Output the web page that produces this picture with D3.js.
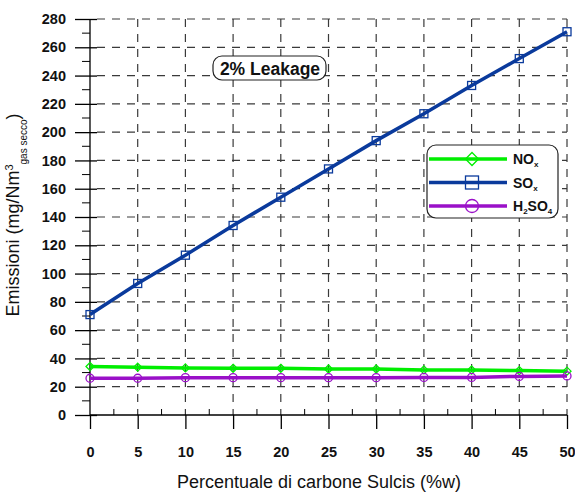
<!DOCTYPE html>
<html>
<head>
<meta charset="utf-8">
<script src="https://cdn.jsdelivr.net/npm/d3@7"></script>
<style>
  html, body { margin: 0; padding: 0; background: #fff; }
  svg { display: block; font-family: "Liberation Sans", Arial, sans-serif; }
</style>
</head>
<body>
<svg id="chart" width="575" height="493"></svg>
<script>
// Percentuale di carbone Sulcis (%w)
const carbone = [0, 5, 10, 15, 20, 25, 30, 35, 40, 45, 50];
// Emissioni (mg/Nm3 gas secco)
const nox   = [34.3, 33.8, 33.3, 33.0, 33.0, 32.5, 32.5, 31.9, 31.8, 31.4, 31.0];
const sox   = [71, 93, 113, 134, 154, 174, 194, 213, 233, 252, 271];
const h2so4 = [26.0, 26.0, 26.4, 26.4, 26.4, 26.4, 26.4, 26.6, 26.6, 27.3, 27.6];

const xTicks = [0, 5, 10, 15, 20, 25, 30, 35, 40, 45, 50];
const yTicks = [0, 20, 40, 60, 80, 100, 120, 140, 160, 180, 200, 220, 240, 260, 280];
const xMinor = [2.5, 7.5, 12.5, 17.5, 22.5, 27.5, 32.5, 37.5, 42.5, 47.5];
const yMinor = [10, 30, 50, 70, 90, 110, 130, 150, 170, 190, 210, 230, 250, 270];

const series = [
  { name: "NO", sub: "x", pre: null, values: nox,   color: "#00ee00", marker: "diamond" },
  { name: "SO", sub: "x", pre: null, values: sox,   color: "#0a3a9c", marker: "square" },
  { name: "H", sub: "4", pre: "2", values: h2so4, color: "#9a10c8", marker: "circle" }
];

const svg = d3.select("#chart");
const pLeft = 90, pRight = 567, pTop = 19, pBottom = 415;

const x = d3.scaleLinear().domain([0, 50]).range([pLeft, pRight]);
const y = d3.scaleLinear().domain([0, 280]).range([pBottom, pTop]);

// dashed grid
const grid = svg.append("g").attr("stroke", "#3a3a3a").attr("stroke-width", 1.2)
  .attr("stroke-dasharray", "8,7");
grid.selectAll("line.h").data(yTicks.filter(d => d > 0)).join("line")
  .attr("x1", pLeft + 7).attr("x2", pRight).attr("y1", d => y(d)).attr("y2", d => y(d));
grid.selectAll("line.v").data(xTicks.filter(d => d > 0)).join("line")
  .attr("y1", pTop).attr("y2", pBottom).attr("x1", d => x(d)).attr("x2", d => x(d));

// y axis
const yAxis = svg.append("g").attr("transform", `translate(${pLeft},0)`)
  .call(d3.axisLeft(y).tickValues(yTicks).tickSize(15).tickPadding(9).tickSizeOuter(0));
yAxis.selectAll(".tick line").attr("x2", -15).attr("x1", 7);
yAxis.select(".domain").attr("d", `M0,${pTop}V${pBottom}`);
yAxis.append("g").selectAll("line").data(yMinor).join("line")
  .attr("x1", -8).attr("x2", 0).attr("y1", d => y(d)).attr("y2", d => y(d))
  .attr("stroke", "#000");

// x axis
const xAxis = svg.append("g").attr("transform", `translate(0,${pBottom})`)
  .call(d3.axisBottom(x).tickValues(xTicks).tickSize(14).tickPadding(18).tickSizeOuter(0));
xAxis.select(".domain").attr("d", `M${pLeft},0H${pRight}`);
xAxis.append("g").selectAll("line").data(xMinor).join("line")
  .attr("y1", -6).attr("y2", 0).attr("x1", d => x(d)).attr("x2", d => x(d))
  .attr("stroke", "#000");

svg.selectAll(".tick text").attr("font-family", "Liberation Sans, Arial, sans-serif")
  .attr("font-weight", "bold").attr("font-size", 14.5).attr("fill", "#111");
svg.selectAll(".domain, .tick line").attr("stroke", "#000").attr("stroke-width", 1.3);

// marker drawing
function drawMarker(g, type, cx, cy, r, color) {
  if (type === "diamond") {
    g.append("path").attr("d", `M${cx},${cy - r}L${cx + r},${cy}L${cx},${cy + r}L${cx - r},${cy}Z`)
      .attr("fill", "none").attr("stroke", color).attr("stroke-width", 1.3);
  } else if (type === "square") {
    g.append("rect").attr("x", cx - r).attr("y", cy - r).attr("width", 2 * r).attr("height", 2 * r)
      .attr("fill", "none").attr("stroke", color).attr("stroke-width", 1.3);
  } else {
    g.append("circle").attr("cx", cx).attr("cy", cy).attr("r", r)
      .attr("fill", "none").attr("stroke", color).attr("stroke-width", 1.3);
  }
}

const line = d3.line().x((d, i) => x(carbone[i])).y(d => y(d));
series.forEach(s => {
  const g = svg.append("g");
  g.append("path").datum(s.values).attr("d", line)
    .attr("fill", "none").attr("stroke", s.color).attr("stroke-width", 3.5);
  s.values.forEach((v, i) => drawMarker(g, s.marker, x(carbone[i]), y(v), 4, s.color));
});

// legend
const lg = svg.append("g");
lg.append("rect").attr("x", 427).attr("y", 145).attr("width", 131).attr("height", 73)
  .attr("rx", 9).attr("fill", "#fff").attr("stroke", "#222").attr("stroke-width", 1.2);
series.forEach((s, i) => {
  const ly = 159 + i * 23.5;
  lg.append("line").attr("x1", 429).attr("x2", 507).attr("y1", ly).attr("y2", ly)
    .attr("stroke", s.color).attr("stroke-width", 3.5);
  drawMarker(lg, s.marker, 472, ly, 6.5, s.color);
  const t = lg.append("text").attr("x", 513).attr("y", ly + 5)
    .attr("font-weight", "bold").attr("font-size", 14).attr("fill", "#111");
  if (s.pre) {
    t.append("tspan").text(s.name);
    t.append("tspan").text(s.pre).attr("font-size", 8).attr("dy", 3);
    t.append("tspan").text("SO").attr("dy", -3);
    t.append("tspan").text(s.sub).attr("font-size", 8).attr("dy", 3);
  } else {
    t.append("tspan").text(s.name);
    t.append("tspan").text(s.sub).attr("font-size", 8).attr("dy", 3);
  }
});

// annotation
const an = svg.append("g");
an.append("rect").attr("x", 213).attr("y", 56).attr("width", 113).attr("height", 24)
  .attr("rx", 9).attr("fill", "#fff").attr("stroke", "#222").attr("stroke-width", 1.2);
an.append("text").attr("x", 270).attr("y", 74.5).attr("text-anchor", "middle")
  .attr("font-weight", "bold").attr("font-size", 17.5).attr("fill", "#111").text("2% Leakage");

// axis titles
svg.append("text").attr("x", 319).attr("y", 488).attr("text-anchor", "middle")
  .attr("font-size", 18).attr("fill", "#111")
  .text("Percentuale di carbone Sulcis (%w)");

const yt = svg.append("text").attr("transform", "translate(19,215) rotate(-90)")
  .attr("text-anchor", "middle").attr("font-size", 18).attr("fill", "#111");
yt.append("tspan").text("Emissioni (mg/Nm");
yt.append("tspan").text("3").attr("font-size", 11).attr("dy", -6);
yt.append("tspan").text("gas secco").attr("font-size", 10).attr("dy", 14);
yt.append("tspan").text(")").attr("dy", -8);
</script>
</body>
</html>
